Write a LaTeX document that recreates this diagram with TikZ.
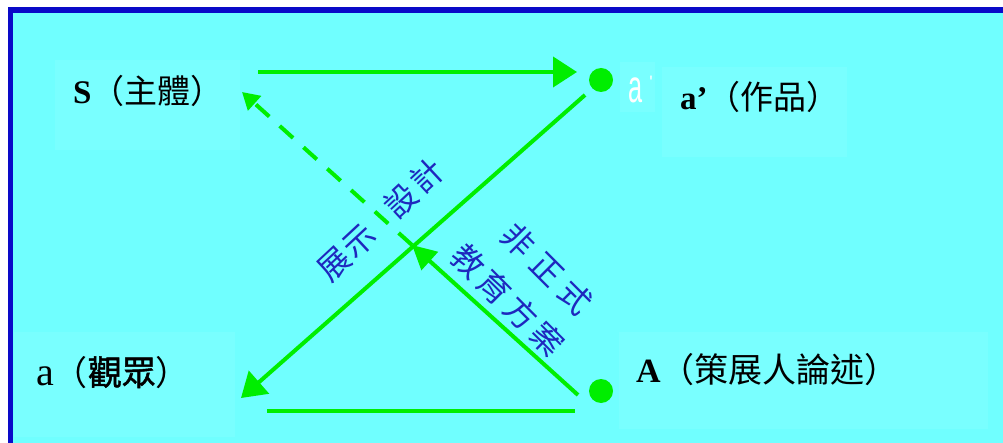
\documentclass[tikz,border=0pt]{standalone}
\usepackage{fontspec}
\setmainfont{Liberation Serif}
\newfontfamily\cjk{Noto Sans CJK TC}
\newfontfamily\cjkb[FakeBold=1.4]{Noto Sans CJK TC}
\newfontfamily\sansf{Liberation Sans}
\usetikzlibrary{arrows.meta}
\definecolor{cy}{RGB}{112,255,255}
\definecolor{cybox}{RGB}{121,255,255}
\definecolor{frameblue}{RGB}{10,10,200}
\definecolor{gr}{RGB}{0,238,0}
\definecolor{tblue}{RGB}{30,40,190}
\begin{document}
\begin{tikzpicture}[x=1pt,y=-1pt,
  conn/.style={draw=gr, line width=4pt},
  bighead/.style={-{Triangle[length=24pt,width=30pt]}},
  smallhead/.style={-{Triangle[length=17pt,width=19pt]}},
  lbl/.style={inner sep=0pt, anchor=base west, font=\fontsize{33}{33}\selectfont},
  lblb/.style={inner sep=0pt, anchor=base west, font=\fontsize{34}{34}\selectfont},
  rot/.style={inner sep=0pt, text=tblue, font=\cjk\fontsize{32}{32}\selectfont},
  dotnode/.style={circle, fill=gr, minimum size=24pt, inner sep=0pt},
  labelbox/.style={fill=cybox, draw=none}]
\useasboundingbox (0,0) rectangle (1003,443);
\fill[white] (0,0) rectangle (1003,443);
\fill[frameblue] (8,7) rectangle (1003,443);
\fill[cy] (13,13) rectangle (1003,443);
% faint label boxes
\fill[labelbox] (55,60) rectangle (240,150);
\fill[labelbox] (662,67) rectangle (847,157);
\fill[labelbox] (620,62) rectangle (655,112);
\fill[labelbox] (14,332) rectangle (235,437);
\fill[labelbox] (619,332) rectangle (988,429);
% labels
\node[lbl] (S) at (73,104) {\textbf{S}\cjk（主體）};
\node[lbl] (ap) at (680,110) {\textbf{a’}\cjk（作品）};
\node[lblb] (a) at (36,385) {{\fontsize{40}{40}\selectfont a}\cjk（{\cjkb 觀眾}）};
\node[lblb] (A) at (636,382) {\textbf{A}\cjk（策展人論述）};
\node[inner sep=0pt, anchor=base west, text=white] (wa) at (628,103)
  {\sansf\scalebox{0.55}[1]{\fontsize{46}{46}\selectfont a}\hspace{7pt}\raisebox{14pt}{\fontsize{18}{18}\selectfont '}};
% dots
\node[dotnode] (dap) at (601,80) {};
\node[dotnode] (dA) at (601,391) {};
% connector end points
\coordinate (s1) at (258,72);
\coordinate (s2) at (577,72);
\coordinate (d1) at (585,95);
\coordinate (d2) at (241,398);
\coordinate (e1) at (578,395);
\coordinate (e2) at (412,245);
\coordinate (f2) at (242,92);
\coordinate (b1) at (267,411);
\coordinate (b2) at (575,411);
% connectors
\draw[conn, bighead] (s1) -- (s2);
\draw[conn, bighead] (d1) -- (d2);
\draw[conn, -{Triangle[length=24pt,width=24pt]}] (e1) -- (e2);
\draw[conn, smallhead, dash pattern=on 18pt off 14pt] (e2) -- (f2);
\draw[conn] (b1) -- (b2);
% rotated texts
\node[rot, rotate=43] (t1) at (347,253) {展\hspace{1pt}示};
\node[rot, rotate=43] (t2) at (414,188) {設\hspace{4pt}計};
\node[rot, rotate=-45] (t3) at (547,269) {非\hspace{8pt}正\hspace{8pt}式};
\node[rot, rotate=-45] (t4) at (508,300) {教\hspace{5pt}育\hspace{5pt}方\hspace{5pt}案};
\end{tikzpicture}
\end{document}
